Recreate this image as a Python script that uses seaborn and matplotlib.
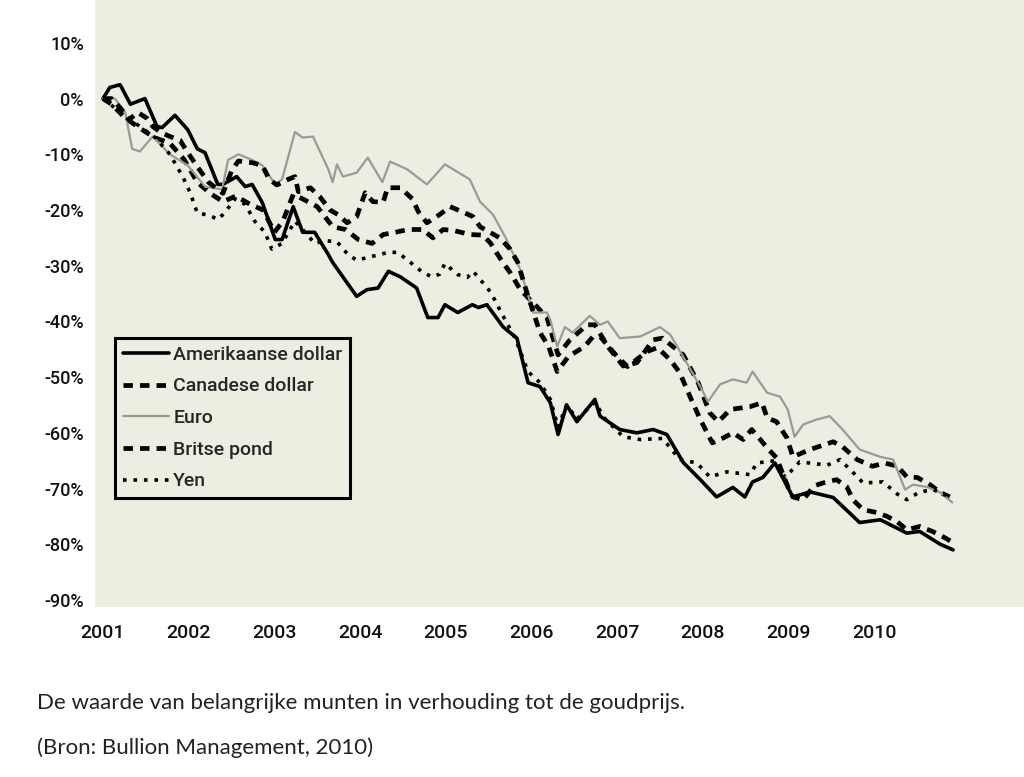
import pandas as pd
import matplotlib.pyplot as plt
import seaborn as sns

# Waarden (procentuele verandering t.o.v. 2001)
usd_jaar = [2001.0, 2001.08, 2001.2, 2001.32, 2001.49, 2001.63, 2001.69, 2001.84, 2001.99, 2002.10,
            2002.19, 2002.34, 2002.40, 2002.56, 2002.66, 2002.74, 2002.86, 2003.01, 2003.09, 2003.22,
            2003.33, 2003.47, 2003.63, 2003.68, 2003.96, 2004.08, 2004.21, 2004.33, 2004.47, 2004.66,
            2004.79, 2004.91, 2004.99, 2005.14, 2005.31, 2005.38, 2005.48, 2005.67, 2005.83, 2005.96,
            2006.10, 2006.22, 2006.31, 2006.41, 2006.53, 2006.74, 2006.80, 2007.03, 2007.23, 2007.42,
            2007.58, 2007.77, 2007.97, 2008.16, 2008.35, 2008.49, 2008.58, 2008.70, 2008.84, 2009.05,
            2009.25, 2009.52, 2009.83, 2010.07, 2010.38, 2010.53, 2010.77, 2010.92]
usd = [0, 2.0, 2.5, -1, 0, -5, -5.2, -3, -5.6, -9,
       -9.7, -15.4, -15.4, -14, -15.8, -15.4, -18.7, -25.3, -25.3, -19.4,
       -24, -24, -28, -29.4, -35.5, -34.3, -34, -31, -32, -34,
       -39.3, -39.3, -37, -38.4, -37, -37.5, -37, -41, -43, -51,
       -51.7, -54.6, -60.3, -55, -58, -54, -57, -59.4, -60, -59.4,
       -60.3, -65.3, -68.4, -71.5, -69.8, -71.5, -68.8, -68, -65.4, -71.5,
       -70.6, -71.6, -76.1, -75.6, -78, -77.7, -80, -81]

cad_jaar = [2001.0, 2001.1, 2001.26, 2001.45, 2001.6, 2001.78, 2001.95, 2002.1, 2002.25, 2002.4,
            2002.55, 2002.72, 2002.87, 2003.0, 2003.1, 2003.22, 2003.33, 2003.5, 2003.59, 2003.68,
            2003.83, 2003.98, 2004.14, 2004.27, 2004.41, 2004.56, 2004.73, 2004.85, 2004.97, 2005.1,
            2005.28, 2005.43, 2005.52, 2005.66, 2005.75, 2005.87, 2006.06, 2006.18, 2006.31, 2006.45,
            2006.65, 2006.74, 2006.89, 2007.07, 2007.23, 2007.42, 2007.53, 2007.77, 2007.94, 2008.08,
            2008.18, 2008.32, 2008.55, 2008.69, 2008.75, 2008.86, 2008.98, 2009.05, 2009.25, 2009.52,
            2009.63, 2009.80, 2009.98, 2010.12, 2010.27, 2010.38, 2010.50, 2010.65, 2010.77, 2010.88]
cad = [0, -1, -3.5, -5.5, -7, -8, -11, -15, -17, -18.5,
       -17.5, -19, -20, -24, -22, -17.2, -18, -19.4, -21.2, -23,
       -23.5, -25.3, -26, -24.4, -24, -23.5, -23.5, -25, -23.5, -23.7,
       -24.4, -24.5, -25.9, -29.3, -31.2, -34.3, -37.3, -39.3, -46, -43.3,
       -40.6, -40.6, -44.5, -48, -47.4, -43.3, -43, -46, -50.8, -56.4,
       -58, -55.8, -55.3, -54.6, -57.3, -58, -60.9, -64.3, -63, -61.6,
       -62.5, -64.8, -66, -65.4, -66, -67.9, -68, -69.3, -70.7, -71.5]

euro_jaar = [2001.0, 2001.14, 2001.26, 2001.34, 2001.43, 2001.53, 2001.58, 2001.78, 2001.99, 2002.19,
             2002.39, 2002.46, 2002.58, 2002.74, 2002.86, 2003.01, 2003.09, 2003.24, 2003.33, 2003.45,
             2003.63, 2003.68, 2003.73, 2003.80, 2003.96, 2004.09, 2004.26, 2004.35, 2004.55, 2004.78,
             2004.99, 2005.28, 2005.40, 2005.55, 2005.71, 2005.87, 2006.02, 2006.18, 2006.22, 2006.30,
             2006.39, 2006.48, 2006.68, 2006.80, 2006.89, 2007.03, 2007.27, 2007.50, 2007.62, 2007.81,
             2007.97, 2008.06, 2008.20, 2008.35, 2008.51, 2008.58, 2008.75, 2008.90, 2008.99, 2009.07,
             2009.17, 2009.33, 2009.48, 2009.63, 2009.83, 2010.07, 2010.22, 2010.36, 2010.45, 2010.61,
             2010.77, 2010.91]
euro = [0, 0, -2.5, -9, -9.5, -7.7, -6.8, -10, -12, -15.8,
        -16.3, -11, -10, -11, -12, -15.4, -14.5, -6, -7, -6.8,
        -12.7, -15, -11.8, -14, -13.3, -10.6, -15, -11.3, -12.7, -15.4,
        -11.8, -14.5, -18.5, -20.8, -25.3, -30.7, -38.4, -38.4, -39.7, -44.5,
        -41, -42, -39, -40.6, -40, -43, -42.7, -41, -42.4, -47.4,
        -51.7, -54.4, -51.3, -50.4, -51, -49, -52.8, -53.5, -55.8, -60.7,
        -58.5, -57.6, -57, -59.4, -63, -64.3, -64.8, -70.2, -69.3, -69.7,
        -70.7, -72.5]

gbp_jaar = [2001.0, 2001.1, 2001.22, 2001.3, 2001.41, 2001.51, 2001.58, 2001.67, 2001.78, 2001.9,
            2001.99, 2002.1, 2002.23, 2002.4, 2002.5, 2002.58, 2002.74, 2002.86, 2002.94, 2003.03,
            2003.16, 2003.24, 2003.28, 2003.42, 2003.53, 2003.65, 2003.74, 2003.85, 2003.96, 2004.06,
            2004.15, 2004.27, 2004.32, 2004.47, 2004.61, 2004.68, 2004.78, 2004.93, 2005.05, 2005.19,
            2005.32, 2005.40, 2005.63, 2005.75, 2005.84, 2005.95, 2006.1, 2006.2, 2006.3, 2006.43,
            2006.62, 2006.72, 2006.8, 2007.0, 2007.12, 2007.35, 2007.47, 2007.62, 2007.73, 2007.85,
            2007.97, 2008.11, 2008.24, 2008.35, 2008.47, 2008.57, 2008.67, 2008.75, 2008.86, 2009.0,
            2009.05, 2009.17, 2009.3, 2009.4, 2009.56, 2009.68, 2009.75, 2009.87, 2010.03, 2010.15,
            2010.27, 2010.38, 2010.53, 2010.68, 2010.82, 2010.92]
gbp = [0, 0, -2, -3.8, -2.5, -3.5, -5, -6, -6.8, -7.5,
       -9.7, -12.2, -15, -17, -13, -11.2, -11.5, -12, -14.5, -15.5,
       -14.5, -14, -16.7, -16, -17.6, -20, -20.8, -22.3, -21.2, -16.9,
       -18.5, -18.6, -16, -16, -18, -20.3, -22.3, -20.8, -19.4, -20.3,
       -21.2, -23, -25, -27, -29.4, -35, -42, -44.5, -49, -46.3,
       -44.5, -42.7, -42.7, -46.3, -48.1, -45.4, -44.7, -46.9, -49.2, -53.5,
       -57.6, -61.8, -60.9, -60, -61.2, -59.4, -61.2, -62.7, -64.5, -70,
       -71.5, -72, -69.5, -69, -68.4, -69.7, -72, -73.8, -74.3, -75,
       -76, -77.4, -76.8, -77.7, -78.8, -79.7]

yen_jaar = [2001.0, 2001.08, 2001.26, 2001.43, 2001.61, 2001.78, 2001.93, 2002.02, 2002.10, 2002.25,
            2002.34, 2002.42, 2002.54, 2002.66, 2002.77, 2002.89, 2002.97, 2003.09, 2003.24, 2003.36,
            2003.47, 2003.59, 2003.73, 2003.86, 2003.96, 2004.12, 2004.33, 2004.44, 2004.62, 2004.73,
            2004.84, 2004.93, 2004.99, 2005.14, 2005.25, 2005.32, 2005.40, 2005.48, 2005.55, 2005.63,
            2005.71, 2005.81, 2005.96, 2006.10, 2006.22, 2006.31, 2006.41, 2006.53, 2006.74, 2006.86,
            2007.07, 2007.27, 2007.53, 2007.73, 2007.93, 2008.08, 2008.28, 2008.55, 2008.63, 2008.84,
            2008.96, 2009.13, 2009.45, 2009.60, 2009.72, 2009.87, 2010.10, 2010.27, 2010.38, 2010.53,
            2010.69, 2010.88]
yen = [0, -1, -3, -5, -7, -10, -14, -17, -20.5, -21,
       -21.7, -20.5, -18, -19, -22, -24, -27, -26, -22, -24,
       -26, -25.5, -25.7, -28, -29, -28.4, -27.6, -27.6, -29.8, -31.2,
       -32, -31.5, -29.6, -31.6, -32.1, -31, -32.5, -33.8, -35.5, -37.9,
       -40.2, -43, -49, -51, -54, -59, -55, -57.5, -54.5, -57.5,
       -60.7, -61.2, -61, -64.8, -65.4, -67.9, -67, -67.5, -65.4, -65,
       -68, -65.2, -65.8, -64.8, -66.6, -69, -68.8, -71, -72, -70.6,
       -70.2, -71.5]

jaar_labels = ["2001", "2002", "2003", "2004", "2005", "2006", "2007", "2008", "2009", "2010"]
y_ticks = [10, 0, -10, -20, -30, -40, -50, -60, -70, -80, -90]

series = [
    ("Amerikaanse dollar", usd_jaar, usd, dict(color="black", lw=2.6, linestyle="-")),
    ("Canadese dollar", cad_jaar, cad, dict(color="black", lw=3.4, linestyle=(0, (2.0, 1.5)))),
    ("Euro", euro_jaar, euro, dict(color="#9a9a96", lw=1.6, linestyle="-")),
    ("Britse pond", gbp_jaar, gbp, dict(color="black", lw=3.4, linestyle=(0, (2.0, 1.5)))),
    ("Yen", yen_jaar, yen, dict(color="black", lw=2.6, linestyle=(0, (1.0, 1.9)))),
]

bg = "#ededE2"
sns.set_style("white")
plt.rcParams['font.family'] = ['Roboto', 'DejaVu Sans']

fig = plt.figure(figsize=(10.24, 7.77), dpi=100)
ax = fig.add_axes([95 / 1024, 1 - 607 / 777, 1 - 95 / 1024, 607 / 777])
ax.set_facecolor(bg)

for naam, x, y, stijl in series:
    df = pd.DataFrame({"jaar": x, "waarde": y})
    sns.lineplot(data=df, x="jaar", y="waarde", ax=ax, label=naam,
                 estimator=None, sort=False, **stijl)

ax.set_xlim(2000.907, 2011.747)
ax.set_ylim(-91.26, 17.7)
ax.set_xticks(range(2001, 2011))
ax.set_xticklabels(jaar_labels)
ax.set_yticks(y_ticks)
ax.set_yticklabels([f"{v}%" for v in y_ticks])
ax.tick_params(axis="both", length=0)
ax.tick_params(axis="x", pad=12, labelsize=14)
ax.tick_params(axis="y", pad=8, labelsize=13)
for lbl in ax.get_xticklabels() + ax.get_yticklabels():
    lbl.set_fontweight("medium")
    lbl.set_color("#111111")
ax.set_xlabel("")
ax.set_ylabel("")
for s in ax.spines.values():
    s.set_visible(False)

leg = ax.legend(loc="upper left", bbox_to_anchor=(0.0215, 0.443), frameon=True,
                fancybox=False, edgecolor="black", facecolor=bg, framealpha=1,
                fontsize=14, handlelength=2.4, handletextpad=0.2, labelspacing=0.7,
                borderpad=0.4, borderaxespad=0)
leg.get_frame().set_linewidth(2.2)
for t in leg.get_texts():
    t.set_fontweight("medium")

fig.text(37 / 1024, 1 - 703 / 777, "De waarde van belangrijke munten in verhouding tot de goudprijs.",
         fontsize=16, family=["Lato", "DejaVu Sans"], va="center", ha="left", color="#222222")
fig.text(37 / 1024, 1 - 748 / 777, "(Bron: Bullion Management, 2010)",
         fontsize=16, family=["Lato", "DejaVu Sans"], va="center", ha="left", color="#222222")

plt.savefig("out.png", dpi=100, facecolor="white")
